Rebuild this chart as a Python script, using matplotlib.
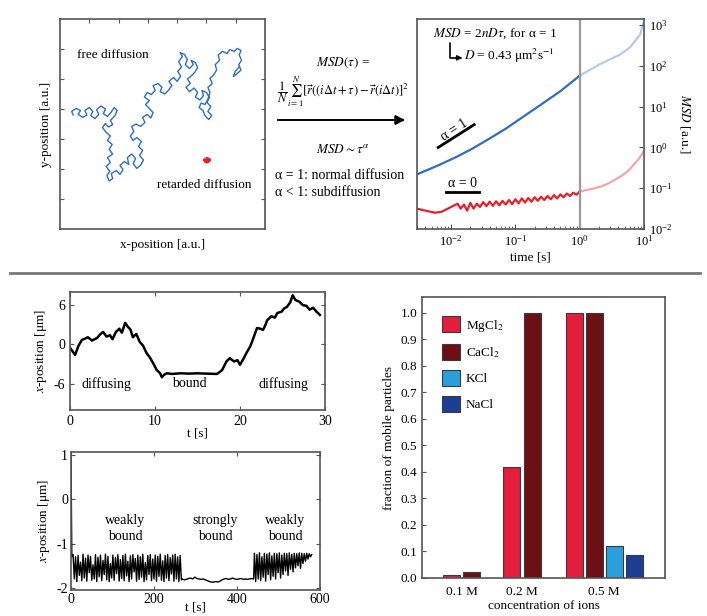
import numpy as np
import matplotlib.pyplot as plt
from matplotlib.lines import Line2D
from matplotlib.patches import Patch

plt.rcParams['font.family'] = 'serif'
plt.rcParams['font.serif'] = ['Liberation Serif', 'DejaVu Serif']
plt.rcParams['mathtext.fontset'] = 'stix'
plt.rcParams['axes.unicode_minus'] = False
plt.rcParams['xtick.direction'] = 'in'
plt.rcParams['ytick.direction'] = 'in'
plt.rcParams['font.size'] = 9
plt.rcParams['axes.edgecolor'] = '#555555'
plt.rcParams['axes.linewidth'] = 1.2

# --- 2D trajectories (a.u.) ---
free_x = [0.45, 0.40, 0.55, 0.70, 0.62, 0.78, 0.92, 0.85, 1.00, 1.12, 1.05, 1.20, 1.32, 1.25, 1.40, 1.55,
          1.48, 1.62, 1.75, 1.85, 1.95, 1.88, 1.72, 1.80, 1.65, 1.55, 1.45, 1.58,
          1.72, 1.62, 1.78, 1.68, 1.80, 1.62, 1.72, 1.58, 1.70, 1.60, 1.68, 1.80, 1.75, 1.92, 2.05, 2.15,
          2.05, 2.20, 2.35, 2.30, 2.45, 2.58, 2.50, 2.62, 2.75, 2.85, 2.72, 2.82, 2.68, 2.78, 2.62, 2.50,
          2.40, 2.52, 2.45, 2.60, 2.75, 2.90, 2.82, 2.98, 3.10, 3.18,
          3.05, 2.92, 3.05, 2.88, 2.98, 3.12, 3.25, 3.18, 3.35, 3.48, 3.42, 3.58,
          3.70, 3.82, 3.72, 3.88, 4.00, 4.12, 4.02, 4.15, 4.05, 4.18, 4.10, 4.25, 4.35, 4.28, 4.42, 4.55,
          4.48, 4.62, 4.70, 4.60, 4.48, 4.35, 4.45, 4.30, 4.42, 4.58, 4.70, 4.62, 4.78, 4.90, 4.85, 5.00,
          5.10, 5.02, 5.15, 5.05, 5.18, 5.08, 4.95, 4.88, 4.75, 4.82, 4.95, 5.05, 5.12, 5.05, 5.20, 5.12, 5.25,
          5.35, 5.30, 5.45, 5.40, 5.55, 5.70, 5.80, 5.95, 6.05, 6.18, 6.12, 6.20, 6.10, 6.18, 6.05, 5.92,
          5.98, 6.12]
free_y = [3.80, 3.92, 4.02, 3.95, 3.82, 3.72, 3.80, 3.95, 4.05, 3.92, 3.78, 3.68, 3.82, 3.98, 4.10, 4.00,
          3.85, 3.75, 3.90, 4.05, 3.95, 3.78, 3.62, 3.48, 3.40, 3.52, 3.38, 3.22,
          3.10, 2.95, 2.82, 2.65, 2.50, 2.38, 2.22, 2.08, 1.92, 1.78, 1.60, 1.68, 1.85, 1.95, 1.82, 1.98,
          2.12, 2.25, 2.15, 2.38, 2.50, 2.35, 2.18, 2.02, 2.12, 2.30, 2.45, 2.62, 2.75, 2.92, 3.05, 2.95,
          3.10, 3.25, 3.42, 3.50, 3.42, 3.55, 3.72, 3.82, 3.70, 3.88,
          4.02, 4.15, 4.28, 4.40, 4.55, 4.48, 4.62, 4.78, 4.85, 4.72, 4.58, 4.50,
          4.62, 4.78, 4.92, 5.05, 4.92, 5.10, 5.25, 5.40, 5.58, 5.75, 5.88, 5.82, 5.65, 5.48, 5.35, 5.48,
          5.62, 5.55, 5.38, 5.22, 5.10, 5.00, 4.85, 4.72, 4.58, 4.70, 4.55, 4.40, 4.30, 4.45, 4.62, 4.55,
          4.38, 4.22, 4.08, 3.92, 3.78, 3.65, 3.78, 3.95, 4.05, 4.20, 4.15, 4.32, 4.55, 4.72, 4.85, 5.02, 5.15,
          5.30, 5.48, 5.62, 5.80, 5.92, 5.85, 5.98, 5.92, 6.02, 5.95, 5.80, 5.62, 5.48, 5.30, 5.18, 5.08,
          5.25, 5.40]
ret_x = [4.95, 5.05, 5.10, 5.00, 4.92, 5.02, 5.12, 5.05, 4.97]
ret_y = [2.28, 2.33, 2.27, 2.22, 2.30, 2.36, 2.31, 2.24, 2.26]

# --- MSD curves (log10 t, log10 MSD) ---
blue_t = [-2.53, -2.2, -1.9, -1.67, -1.4, -1.15, -0.9, -0.63, -0.3, 0.0]
blue_m = [-0.66, -0.44, -0.22, -0.03, 0.22, 0.46, 0.73, 1.02, 1.38, 1.76]
blue_t2 = [0.0, 0.31, 0.63, 0.78, 0.94, 0.99]
blue_m2 = [1.76, 2.04, 2.28, 2.45, 2.77, 3.06]
red_t = [-2.53, -2.4, -2.25, -2.15, -2.05, -1.95, -1.9, -1.85, -1.8, -1.75, -1.7, -1.65, -1.6, -1.55,
         -1.5, -1.45, -1.4, -1.35, -1.3, -1.25, -1.2, -1.15, -1.1, -1.05, -1.0, -0.95, -0.9, -0.85,
         -0.8, -0.75, -0.7, -0.65, -0.6, -0.55, -0.5, -0.45, -0.4, -0.35, -0.3, -0.25, -0.2, -0.15,
         -0.1, -0.05, 0.0]
red_m = [-1.50, -1.55, -1.60, -1.58, -1.50, -1.42, -1.38, -1.50, -1.40, -1.55, -1.36, -1.50, -1.38, -1.46,
         -1.34, -1.44, -1.33, -1.43, -1.32, -1.42, -1.31, -1.40, -1.29, -1.39, -1.27, -1.37, -1.25, -1.35,
         -1.24, -1.33, -1.22, -1.31, -1.21, -1.29, -1.19, -1.27, -1.17, -1.25, -1.15, -1.22, -1.13, -1.19,
         -1.11, -1.16, -1.08]
red_t2 = [0.0, 0.15, 0.31, 0.45, 0.63, 0.75, 0.83, 0.92, 0.99]
red_m2 = [-1.08, -1.03, -0.97, -0.88, -0.72, -0.58, -0.44, -0.28, -0.11]

# --- single trajectory, diffusing / bound ---
d_t = [0, 0.6, 1.0, 1.4, 1.8, 2.1, 2.6, 3.2, 3.6, 3.9, 4.3, 4.7, 5.0, 5.4, 5.8, 6.1, 6.5, 6.8, 7.1,
       7.4, 7.8, 8.2, 8.6, 9.0, 9.4, 9.8, 10.2, 10.6, 10.8, 11.1, 11.4, 12.0, 13.0, 14.0, 15.0, 16.0,
       17.3, 17.9, 18.4, 18.8, 19.3, 19.7, 20.0, 20.4, 20.8, 21.2, 21.5, 22.0, 22.4, 22.7, 23.0, 23.2,
       23.7, 24.1, 24.4, 24.9, 25.2, 25.5, 25.9, 26.2, 26.5, 27.0, 27.4, 27.8, 28.2, 28.6, 29.0, 29.4]
d_x = [-0.5, -1.6, -0.2, 0.7, 0.9, 1.1, 0.6, 1.0, 1.6, 1.9, 1.2, 1.4, 0.8, 1.9, 2.4, 1.8, 3.3, 2.7, 2.3,
       1.1, 1.6, 0.4, -0.2, -1.3, -2.0, -2.9, -3.9, -4.4, -5.0, -4.6, -4.4, -4.5, -4.4, -4.45, -4.4, -4.45,
       -4.5, -3.9, -2.6, -2.1, -2.6, -2.4, -3.1, -2.2, -1.2, -0.3, 0.7, 2.5, 2.4, 2.2, 3.0, 3.7,
       4.3, 4.1, 4.8, 5.0, 5.5, 5.7, 6.4, 7.5, 6.8, 6.5, 6.0, 5.9, 5.3, 5.6, 5.0, 4.5]

# --- weakly / strongly bound trajectory ---
weak1 = [-1.25, -1.80, -1.30, -1.86, -1.27, -1.72, -1.42, -1.84, -1.24, -1.78,
         -1.33, -1.85, -1.26, -1.66, -1.29, -1.83, -1.48, -1.80, -1.25, -1.86,
         -1.31, -1.75, -1.26, -1.84, -1.38, -1.70, -1.24, -1.82, -1.29, -1.86,
         -1.45, -1.78, -1.26, -1.83, -1.32, -1.68, -1.25, -1.85, -1.36, -1.79,
         -1.27, -1.84, -1.24, -1.73, -1.40, -1.86, -1.28, -1.80, -1.25, -1.64,
         -1.34, -1.85, -1.26, -1.81, -1.30, -1.76, -1.24, -1.86, -1.43, -1.82,
         -1.27, -1.70, -1.25, -1.84, -1.35, -1.80, -1.26, -1.85, -1.29, -1.74,
         -1.24, -1.83, -1.39, -1.86, -1.27, -1.78, -1.25, -1.84, -1.32, -1.69,
         -1.26, -1.85, -1.24, -1.80, -1.30, -1.86, -1.27, -1.82]
strong = [-1.80, -1.82, -1.81, -1.79, -1.78, -1.80, -1.76, -1.79, -1.80, -1.81,
          -1.80, -1.82, -1.84, -1.86, -1.87, -1.87, -1.86, -1.87, -1.85, -1.82,
          -1.80, -1.79, -1.81, -1.80, -1.78, -1.80, -1.81, -1.80, -1.79, -1.81,
          -1.80, -1.81, -1.80, -1.79, -1.80]
weak2 = [-1.22, -1.86, -1.25, -1.80, -1.21, -1.84, -1.30, -1.76, -1.22, -1.85,
         -1.24, -1.70, -1.21, -1.82, -1.28, -1.74, -1.22, -1.80, -1.23, -1.66,
         -1.21, -1.78, -1.26, -1.70, -1.22, -1.62, -1.23, -1.72, -1.21, -1.58,
         -1.24, -1.64, -1.22, -1.55, -1.23, -1.50, -1.21, -1.56, -1.22, -1.45,
         -1.23, -1.40, -1.22, -1.35, -1.23, -1.30, -1.25]

# --- fraction of mobile particles ---
conc = ['0.1 M', '0.2 M', '0.5 M']
salts = ['MgCl$_2$', 'CaCl$_2$', 'KCl', 'NaCl']
salt_colors = ['#e31d3c', '#6d1016', '#2b9fdc', '#1c3f94']
frac_mg = [0.012, 0.42, 1.0]
frac_ca = [0.022, 1.0, 1.0]
frac_kcl = [None, None, 0.122]
frac_nacl = [None, None, 0.085]

W, H = 707, 616
fig = plt.figure(figsize=(W / 100, H / 100), dpi=100)


def box(l, t, r, b):
    return [l / W, 1 - b / H, (r - l) / W, (b - t) / H]


def fp(x, y):
    return (x / W, 1 - y / H)


blue = '#2f6fba'
red = '#e8202a'

# panel: trajectories
axA = fig.add_axes(box(60, 19, 265, 229))
axA.plot(free_x, free_y, color=blue, lw=1.0)
axA.plot(ret_x, ret_y, color=red, lw=1.8)
axA.set_xlim(0, 7)
axA.set_ylim(0, 7)
axA.set_xticks(range(1, 7))
axA.set_yticks(range(1, 7))
axA.tick_params(labelbottom=False, labelleft=False, top=True, right=True, bottom=False,
                length=3, color='#555555')
axA.set_xlabel('x-position [a.u.]', fontsize=9.5, labelpad=7)
axA.set_ylabel('y-position [a.u.]', fontsize=9.5, labelpad=6)
axA.text(0.58, 5.8, 'free diffusion', fontsize=9.5, va='center')
axA.text(3.3, 1.47, 'retarded diffusion', fontsize=9.5, va='center')

# formula block + arrow
fig.text(*fp(343, 63), r'$MSD(\tau)$ =', ha='center', va='center', fontsize=9.5)
fig.text(*fp(343, 92), r'$\dfrac{1}{N}\sum_{i=1}^{N}[\vec{r}((i\Delta t+\tau)-\vec{r}(i\Delta t)]^2$',
         ha='center', va='center', fontsize=9)
axA.annotate('', xy=fp(408, 120), xytext=fp(275, 120), xycoords='figure fraction',
             textcoords='figure fraction',
             arrowprops=dict(arrowstyle='-|>', lw=1.4, color='black', mutation_scale=14))
fig.text(*fp(343, 150), r'$MSD \sim \tau^{\alpha}$', ha='center', va='center', fontsize=9.5)
fig.text(*fp(275, 175), 'α = 1: normal diffusion', ha='left', va='center', fontsize=10)
fig.text(*fp(275, 193), 'α < 1: subdiffusion', ha='left', va='center', fontsize=10)

# panel: MSD
axC = fig.add_axes(box(417, 19, 644, 229))
axC.set_xscale('log')
axC.set_yscale('log')
axC.plot(10 ** np.array(blue_t), 10 ** np.array(blue_m), color=blue, lw=1.6)
axC.plot(10 ** np.array(blue_t2), 10 ** np.array(blue_m2), color=blue, lw=1.6, alpha=0.35)
axC.plot(10 ** np.array(red_t), 10 ** np.array(red_m), color=red, lw=1.6)
axC.plot(10 ** np.array(red_t2), 10 ** np.array(red_m2), color=red, lw=1.6, alpha=0.4)
axC.axvline(1, color='#9a9a9a', lw=1.6)
axC.set_xlim(10 ** -2.53, 10)
axC.set_ylim(1e-2, 10 ** 3.15)
axC.yaxis.tick_right()
axC.yaxis.set_label_position('right')
axC.tick_params(which='both', color='#555555')
axC.tick_params(axis='y', which='minor', length=0)
axC.set_xlabel('time [s]', fontsize=9.5, labelpad=2)
axC.set_ylabel(r'$MSD$ [a.u.]', rotation=270, fontsize=9.5, labelpad=14)
axC.plot([10 ** -2.2, 10 ** -1.64], [10 ** 0.0, 10 ** 0.56], color='black', lw=2)
axC.text(10 ** -1.95, 10 ** 0.42, 'α = 1', rotation=33, ha='center', va='center', fontsize=10)
axC.plot([10 ** -2.08, 10 ** -1.56], [10 ** -1.1, 10 ** -1.1], color='black', lw=2)
axC.text(10 ** -1.82, 10 ** -0.88, 'α = 0', ha='center', va='center', fontsize=10)
axC.text(0.07, 0.93, r'$MSD$ = 2$nD\tau$, for α = 1', transform=axC.transAxes,
         ha='left', va='center', fontsize=9.5)
axC.text(0.205, 0.825, r'$D$ = 0.43 μm$^2$s$^{-1}$', transform=axC.transAxes,
         ha='left', va='center', fontsize=9.5)
axC.annotate('', xy=(0.2, 0.815), xytext=(0.145, 0.885), xycoords='axes fraction',
             arrowprops=dict(arrowstyle='-|>', lw=1.2, color='black', mutation_scale=7,
                             shrinkA=0, shrinkB=0,
                             connectionstyle='angle,angleA=90,angleB=0,rad=0'))

# divider
fig.add_artist(Line2D([10 / W, 700 / W], [1 - 273 / H] * 2, color='#777777', lw=2))

# panel: diffusing / bound
axD = fig.add_axes(box(70, 292, 325, 410))
axD.plot(d_t, d_x, color='black', lw=1.8)
axD.set_xlim(0, 30)
axD.set_ylim(-10, 8)
axD.set_xticks([0, 10, 20, 30])
axD.set_yticks([-6, 0, 6])
axD.tick_params(top=True, right=True, labelsize=10, length=3, color='#555555')
axD.set_xlabel('t [s]', fontsize=9.5, labelpad=0)
axD.set_ylabel(r'$x$-position [μm]', fontsize=9.5, labelpad=3)
axD.text(4.3, -6, 'diffusing', ha='center', va='center', fontsize=10)
axD.text(14.1, -6, 'bound', ha='center', va='center', fontsize=10)
axD.text(25.1, -6, 'diffusing', ha='center', va='center', fontsize=10)

# panel: weakly / strongly bound
e_t = [0, 2] + list(np.linspace(5, 266, len(weak1))) + list(np.linspace(268, 440, len(strong))) \
      + list(np.linspace(442, 580, len(weak2)))
e_x = [0.95, -1.3] + weak1 + strong + weak2
axE = fig.add_axes(box(71, 452, 320, 590))
axE.plot(e_t, e_x, color='black', lw=1.0)
axE.set_xlim(0, 600)
axE.set_ylim(-2.05, 1.07)
axE.set_xticks([0, 200, 400, 600])
axE.set_yticks([-2, -1, 0, 1])
axE.tick_params(top=True, right=True, labelsize=10, length=3, color='#555555', pad=2)
axE.set_xlabel('t [s]', fontsize=9.5, labelpad=-3)
axE.set_ylabel(r'$x$-position [μm]', fontsize=9.5, labelpad=3)
axE.text(130, -0.66, 'weakly\nbound', ha='center', va='center', fontsize=10, linespacing=1.3)
axE.text(347, -0.66, 'strongly\nbound', ha='center', va='center', fontsize=10, linespacing=1.3)
axE.text(516, -0.66, 'weakly\nbound', ha='center', va='center', fontsize=10, linespacing=1.3)

# panel: bars
axF = fig.add_axes(box(422, 297, 665, 578))
group_pos = [2.0, 5.0, 9.1]
series = [frac_mg, frac_ca, frac_kcl, frac_nacl]
for g, gp in enumerate(group_pos):
    present = [k for k in range(len(series)) if series[k][g] is not None]
    n = len(present)
    for j, k in enumerate(present):
        axF.bar(gp + (j - (n - 1) / 2) * 1.0, series[k][g], width=0.85, color=salt_colors[k],
                edgecolor='#3a3a3a', lw=0.8)
axF.set_xlim(0, 12.15)
axF.set_ylim(0, 1.06)
axF.set_xticks(group_pos)
axF.set_xticklabels(conc)
axF.set_yticks(np.arange(0, 1.01, 0.1))
axF.set_yticklabels(['%.1f' % v for v in np.arange(0, 1.01, 0.1)])
axF.tick_params(axis='x', length=0, labelsize=9.5, pad=6)
axF.tick_params(axis='y', labelsize=9.5, length=3, color='#555555')
axF.set_ylabel('fraction of mobile particles', fontsize=9.5, labelpad=4)
axF.set_xlabel('concentration of ions', fontsize=9.5, labelpad=1)
handles = [Patch(facecolor=c, edgecolor='#3a3a3a', lw=0.8) for c in salt_colors]
axF.legend(handles, salts, loc='upper left', bbox_to_anchor=(0.06, 0.95), frameon=False,
           handlelength=1.4, handleheight=1.5, labelspacing=0.75, handletextpad=0.4,
           borderaxespad=0, fontsize=9.5)

fig.savefig('out.png', dpi=100)
